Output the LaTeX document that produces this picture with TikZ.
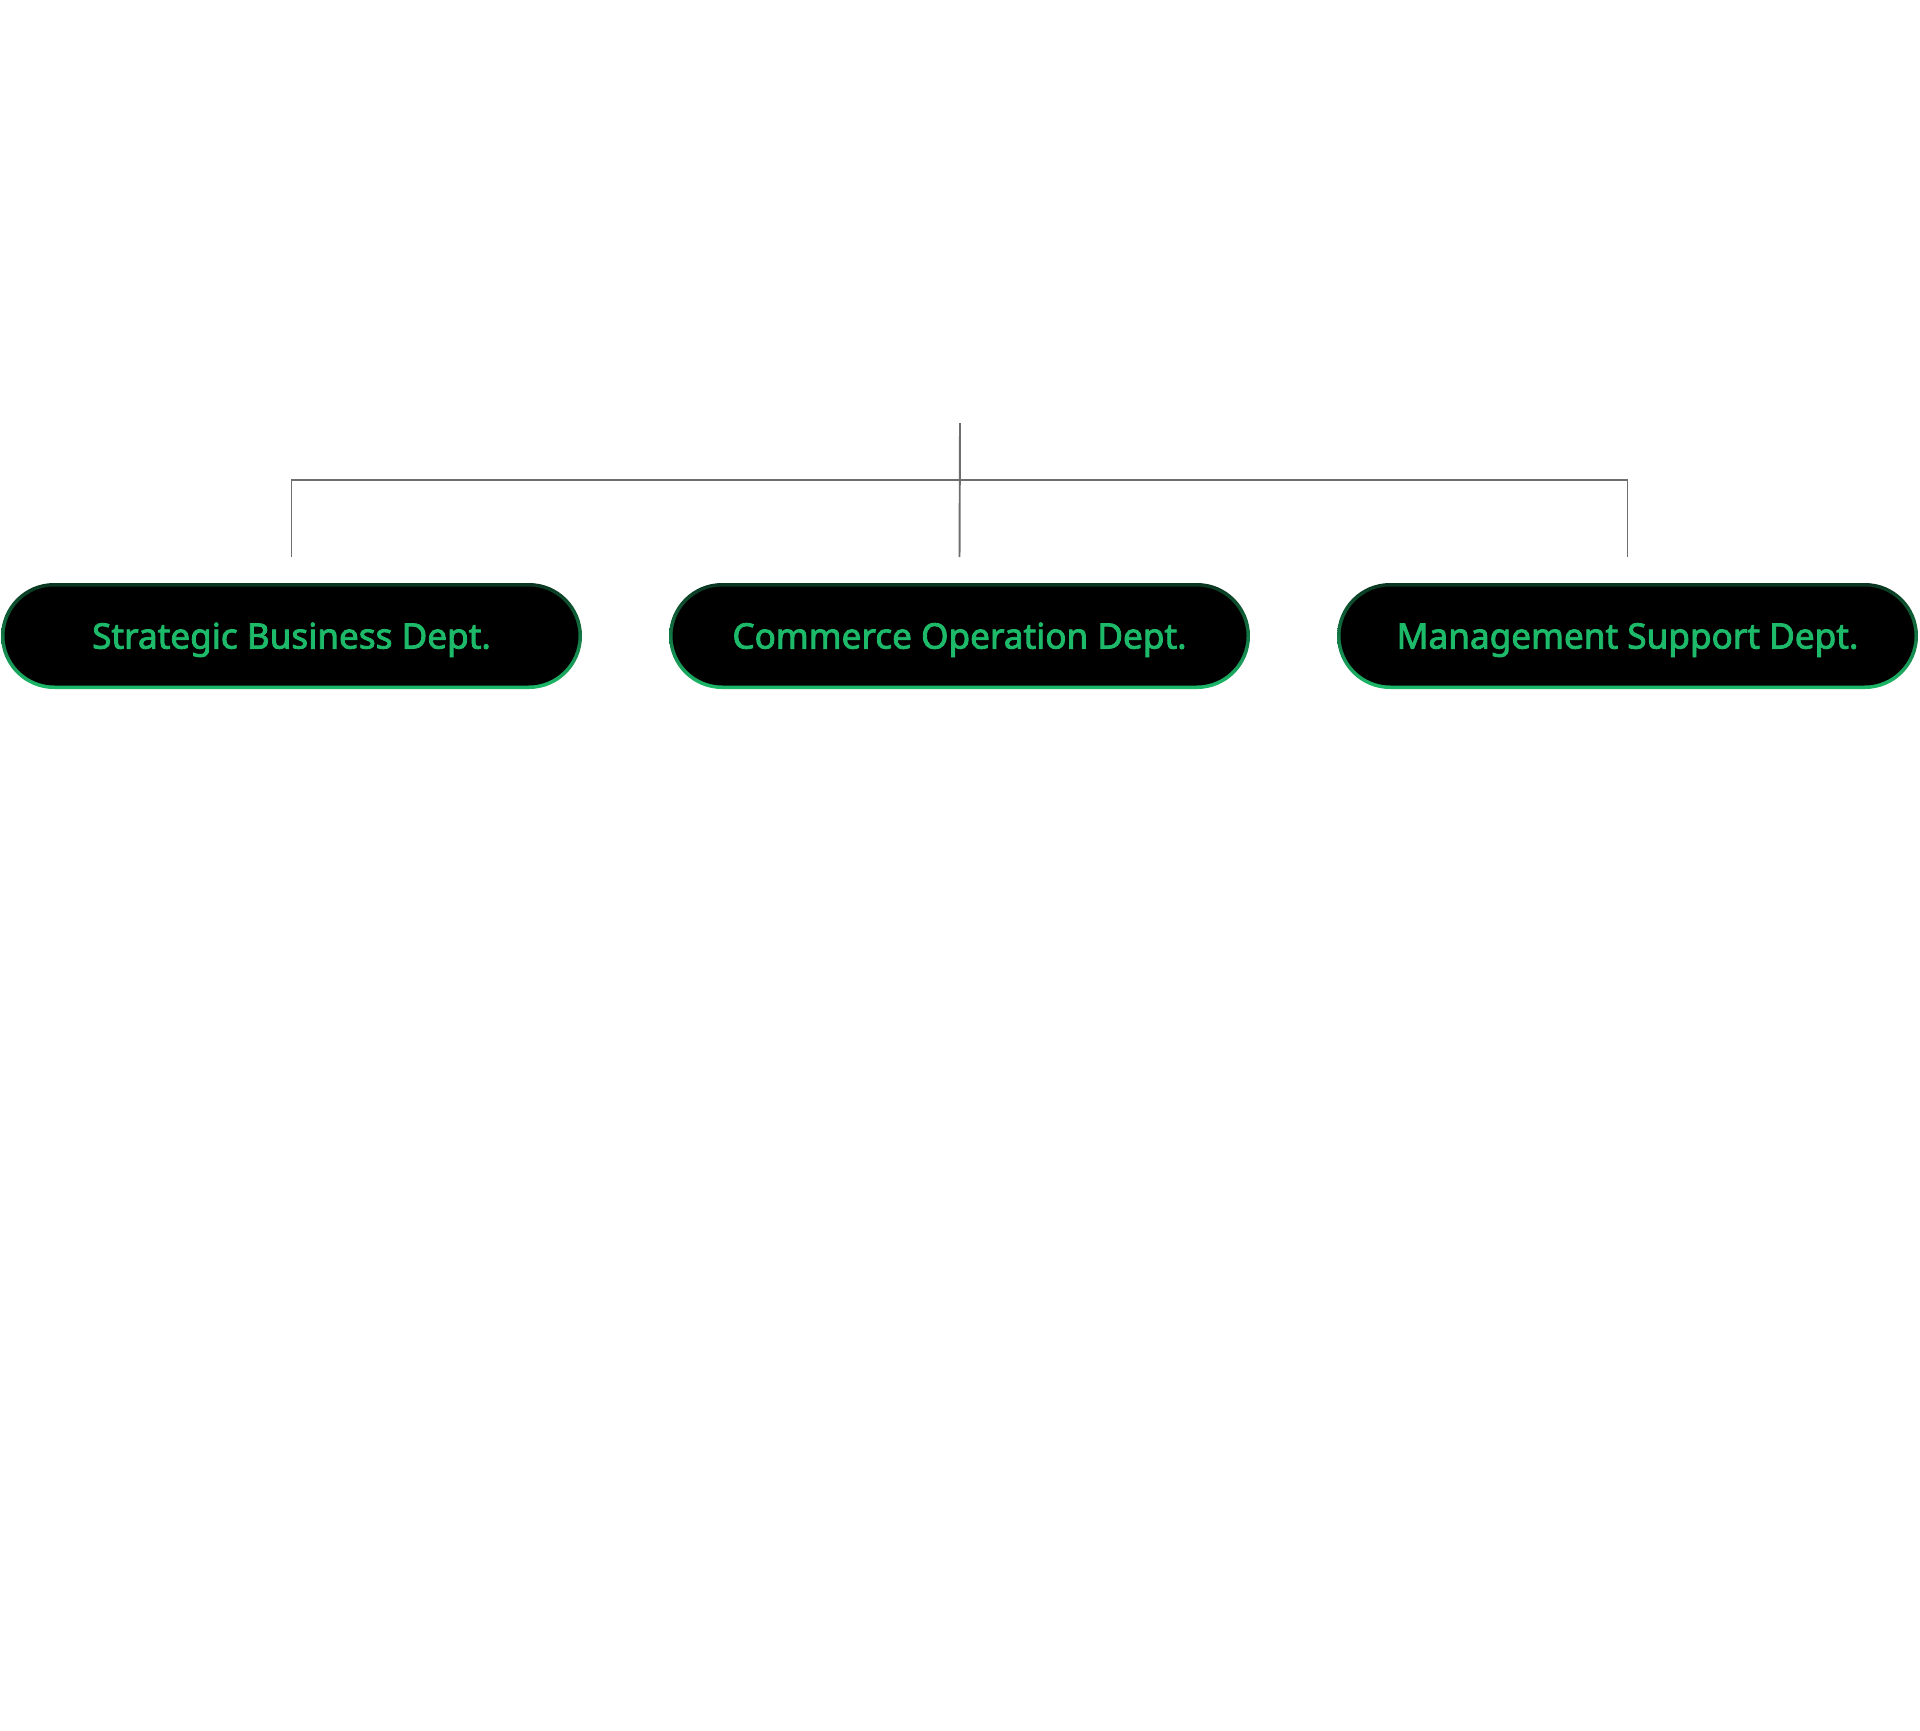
\documentclass[tikz,border=0pt]{standalone}
\usepackage{fontspec}
\setmainfont{Noto Sans}[FakeBold=2.4]
\usetikzlibrary{positioning}
\definecolor{deptgreen}{HTML}{1DBA6A}
\definecolor{deptdark}{HTML}{0A3520}
\definecolor{linkgray}{HTML}{6E6E6E}
\tikzset{
node distance=1.74cm, % gap between the department boxes
dept/.style={rectangle, rounded corners=1.06cm, minimum width=11.62cm, minimum height=2.12cm,
  outer sep=0pt, top color=deptdark, bottom color=deptgreen, text=deptgreen,
  font=\fontsize{20}{24}\selectfont\bfseries, text height=14.3pt, text depth=0pt,
  path picture={\fill[black, rounded corners=1.0cm]
    ([shift={(2pt,2pt)}]path picture bounding box.south west) rectangle
    ([shift={(-2pt,-2pt)}]path picture bounding box.north east);}}, % black box with shaded rim
link/.style={draw=linkgray, line width=1.1pt}, % the tree lines
}
\begin{document}
\begin{tikzpicture}
    \useasboundingbox (0,0) rectangle (38.4,-34.6);
    \node[dept] (strat) at (5.83,-12.72) {Strategic Business Dept.};
    \node[dept, right=of strat] (comm) {Commerce Operation Dept.};
    \node[dept, right=of comm] (mgmt) {Management Support Dept.};
    \coordinate (root) at (19.2,-8.46);

  \draw[link] (root) -- ([yshift=5.2mm]comm.north);
  \draw[link] ([yshift=5.2mm]strat.north) -- ++(0,1.54) -| ([yshift=5.2mm]mgmt.north);
\end{tikzpicture}
\end{document}
